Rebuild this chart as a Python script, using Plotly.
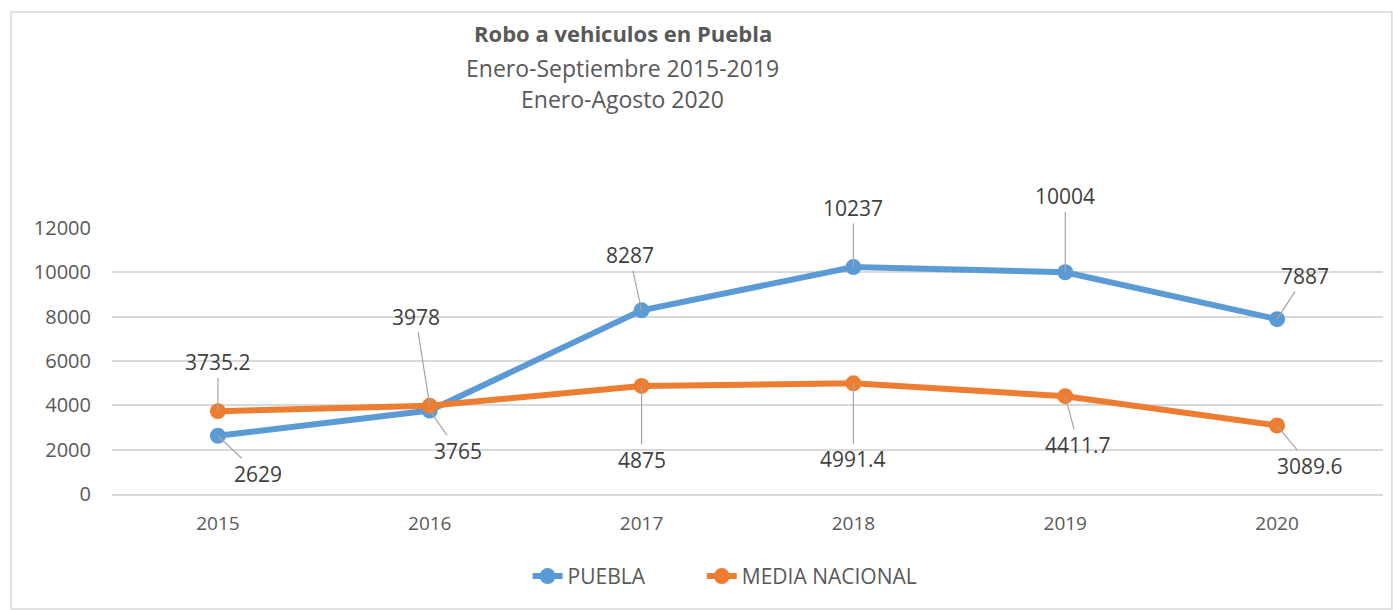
import plotly.graph_objects as go

years = ["2015", "2016", "2017", "2018", "2019", "2020"]
puebla = [2629, 3765, 8287, 10237, 10004, 7887]
media_nacional = [3735.2, 3978, 4875, 4991.4, 4411.7, 3089.6]
puebla_labels = ["2629", "3765", "8287", "10237", "10004", "7887"]
media_labels = ["3735.2", "3978", "4875", "4991.4", "4411.7", "3089.6"]

# label offsets in px (text centre relative to point)
puebla_off = [(40, 38), (28, 40), (-12, -55), (0, -59), (0, -76), (28, -43)]
media_off = [(0, -49), (-14, -89), (0, 74), (0, 76), (13, 49), (33, 40)]

BLUE = "#5B9BD5"
ORANGE = "#ED7D31"
TXT = "#595959"
FONT = "Open Sans"

fig = go.Figure()
fig.add_trace(go.Scatter(
    x=list(range(len(years))), y=puebla, name="PUEBLA", mode="lines+markers",
    line=dict(color=BLUE, width=6), marker=dict(color=BLUE, size=16),
    legend="legend",
))
fig.add_trace(go.Scatter(
    x=list(range(len(years))), y=media_nacional, name="MEDIA NACIONAL", mode="lines+markers",
    line=dict(color=ORANGE, width=6), marker=dict(color=ORANGE, size=16),
    legend="legend2",
))

annotations = []
for vals, labels, offs in [(puebla, puebla_labels, puebla_off), (media_nacional, media_labels, media_off)]:
    for i, (v, lab, (dx, dy)) in enumerate(zip(vals, labels, offs)):
        annotations.append(dict(
            x=i, y=v, xref="x", yref="y", text=lab, showarrow=True,
            arrowhead=0, arrowwidth=1.2, arrowcolor="#a6a6a6",
            ax=dx, ay=dy, standoff=0, startstandoff=0,
            font=dict(family=FONT, size=21, color="#404040"),
        ))

# title lines
for txt, yp, sz in [("<b>Robo a vehiculos en Puebla</b>", 1.733, 22),
                    ("Enero-Septiembre 2015-2019", 1.602, 23),
                    ("Enero-Agosto 2020", 1.485, 23)]:
    annotations.append(dict(
        x=0.402, y=yp, xref="paper", yref="paper", text=txt, showarrow=False,
        xanchor="center", yanchor="middle",
        font=dict(family=FONT, size=sz, color=TXT),
    ))

legend_style = dict(orientation="h", xanchor="left", y=-0.31, yanchor="middle",
                    font=dict(family=FONT, size=21, color=TXT))

fig.update_layout(
    width=1393, height=610,
    margin=dict(l=112, r=10, t=228, b=116),
    paper_bgcolor="white", plot_bgcolor="white",
    font=dict(family=FONT, color=TXT, size=19),
    showlegend=True,
    legend=dict(x=0.327, **legend_style),
    legend2=dict(x=0.464, **legend_style),
    annotations=annotations,
    shapes=[dict(type="rect", xref="paper", yref="paper",
                 x0=-0.0795, x1=1.007, y0=-0.432, y1=1.812,
                 line=dict(color="#d9d9d9", width=1.5), layer="below")],
    xaxis=dict(
        tickmode="array", tickvals=list(range(len(years))), ticktext=years,
        range=[-0.5, 5.5], showgrid=False, zeroline=False,
        showline=True, linecolor="#d9d9d9", linewidth=1.5,
        ticks="", ticklabelstandoff=11,
        tickfont=dict(family=FONT, size=19, color=TXT),
    ),
    yaxis=dict(
        range=[0, 12000], dtick=2000, tickformat="d",
        showgrid=True, gridcolor="#d9d9d9", gridwidth=1.5,
        zeroline=False, showline=False, ticks="", ticklabelstandoff=20,
        tickfont=dict(family=FONT, size=20, color=TXT),
    ),
)

fig.write_html("out.html", config={"displayModeBar": False},
               post_script="document.body.style.margin='0';")
